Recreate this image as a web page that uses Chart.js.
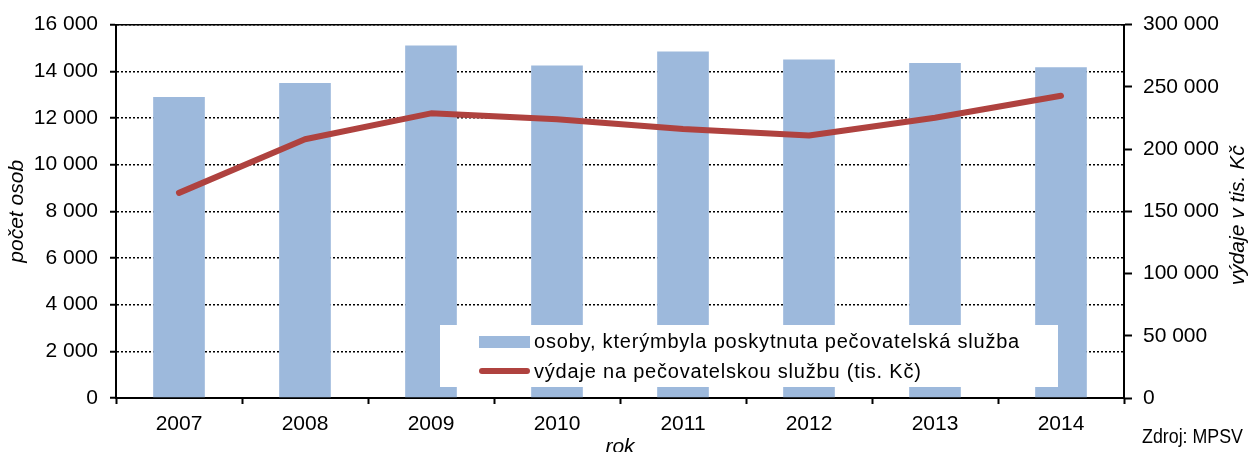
<!DOCTYPE html>
<html lang="cs">
<head>
<meta charset="utf-8">
<title>Pečovatelská služba 2007–2014</title>
<script src="https://cdn.jsdelivr.net/npm/chart.js@4/dist/chart.umd.min.js"></script>
<style>
  html, body { margin: 0; padding: 0; background: #fff; }
  #wrap { position: relative; width: 1251px; height: 452px; }
</style>
</head>
<body>
<div id="wrap"><canvas id="chart"></canvas></div>
<script>
// data
const years = ['2007', '2008', '2009', '2010', '2011', '2012', '2013', '2014'];
const persons = [12900, 13500, 15100, 14250, 14850, 14500, 14350, 14170];
const expenses = [164800, 207900, 228700, 223900, 216200, 210900, 225200, 242800];

const personsLabel = 'osoby, kterýmbyla poskytnuta pečovatelská služba';
const expensesLabel = 'výdaje na pečovatelskou službu (tis. Kč)';

const BAR_COLOR = '#9DB9DC';
const LINE_COLOR = '#AF423F';
const FONT = "'Liberation Sans', Arial, sans-serif";

Chart.defaults.font.family = FONT;
Chart.defaults.color = '#000';

// thousands with a space, Czech style
const fmt = v => String(v).replace(/\B(?=(\d{3})+(?!\d))/g, ' ');

// legend box inside the plot + axis titles + source note
const decorPlugin = {
  id: 'decor',
  afterDatasetsDraw(chart) {
    const ctx = chart.ctx;
    const ds = chart.data.datasets;
    ctx.save();
    ctx.fillStyle = '#fff';
    ctx.fillRect(440, 325, 618, 62);

    // row 1: bar swatch
    ctx.fillStyle = ds[0].backgroundColor;
    ctx.fillRect(479, 336, 51, 12);
    // row 2: line swatch
    ctx.strokeStyle = ds[1].borderColor;
    ctx.lineWidth = 6;
    ctx.lineCap = 'round';
    ctx.beginPath();
    ctx.moveTo(482, 371);
    ctx.lineTo(527, 371);
    ctx.stroke();

    ctx.fillStyle = '#000';
    ctx.font = '20px ' + FONT;
    ctx.letterSpacing = '0.8px';
    ctx.textBaseline = 'middle';
    ctx.textAlign = 'left';
    ctx.fillText(ds[0].label, 534, 342);
    ctx.fillText(ds[1].label, 534, 372);
    ctx.restore();
  },
  afterDraw(chart) {
    const ctx = chart.ctx;
    const area = chart.chartArea;
    const midY = (area.top + area.bottom) / 2;
    ctx.save();
    ctx.fillStyle = '#000';
    ctx.textAlign = 'center';
    ctx.textBaseline = 'alphabetic';
    ctx.font = 'italic 21px ' + FONT;

    ctx.save();
    ctx.translate(23, midY);
    ctx.rotate(-Math.PI / 2);
    ctx.fillText('počet osob', 0, 0);
    ctx.restore();

    ctx.save();
    ctx.translate(1244, midY + 4);
    ctx.rotate(-Math.PI / 2);
    ctx.fillText('výdaje v tis. Kč', 0, 0);
    ctx.restore();

    ctx.fillText('rok', (area.left + area.right) / 2, 453);

    ctx.font = '20px ' + FONT;
    ctx.textAlign = 'left';
    const src = 'Zdroj: MPSV';
    const w = ctx.measureText(src).width;
    ctx.translate(1142, 443);
    ctx.scale(101 / w, 1);
    ctx.fillText(src, 0, 0);
    ctx.restore();
  }
};

new Chart(document.getElementById('chart'), {
  type: 'bar',
  data: {
    labels: years,
    datasets: [
      {
        type: 'bar',
        label: personsLabel,
        data: persons,
        yAxisID: 'y',
        backgroundColor: BAR_COLOR,
        borderWidth: 0,
        barPercentage: 0.41,
        categoryPercentage: 1,
        order: 2
      },
      {
        type: 'line',
        label: expensesLabel,
        data: expenses,
        yAxisID: 'y1',
        borderColor: LINE_COLOR,
        backgroundColor: LINE_COLOR,
        borderWidth: 6,
        borderCapStyle: 'round',
        borderJoinStyle: 'round',
        pointRadius: 0,
        tension: 0,
        order: 1
      }
    ]
  },
  options: {
    responsive: true,
    maintainAspectRatio: false,
    animation: false,
    devicePixelRatio: 1,
    layout: { padding: { top: 22, left: 0, right: 0, bottom: 0 } },
    plugins: {
      legend: { display: false },
      tooltip: { enabled: false }
    },
    scales: {
      x: {
        position: 'bottom',
        grid: {
          drawOnChartArea: false,
          drawTicks: true,
          tickLength: 6,
          tickWidth: 2,
          tickColor: '#000'
        },
        border: { color: '#000', width: 2 },
        ticks: { font: { size: 21 }, padding: 8, color: '#000' },
        afterFit(s) { s.height = 54; }
      },
      x2: {
        position: 'top',
        grid: { display: false },
        border: { display: true, color: '#000', width: 1.5 },
        ticks: { display: false },
        afterFit(s) { s.height = 0; }
      },
      y: {
        position: 'left',
        min: 0,
        max: 16000,
        ticks: {
          stepSize: 2000,
          font: { size: 21 },
          padding: 12,
          color: '#000',
          callback: v => fmt(v)
        },
        grid: {
          color: '#000',
          lineWidth: 1.5,
          tickLength: 6,
          tickWidth: 2,
          tickColor: '#000',
          tickBorderDash: []
        },
        border: { color: '#000', width: 2, dash: [2, 2] },
        afterFit(s) { s.width = 116; }
      },
      y1: {
        position: 'right',
        min: 0,
        max: 300000,
        ticks: {
          stepSize: 50000,
          font: { size: 21 },
          padding: 11,
          color: '#000',
          callback: v => fmt(v)
        },
        grid: {
          drawOnChartArea: false,
          tickLength: 8,
          tickWidth: 2,
          tickColor: '#000'
        },
        border: { color: '#000', width: 2 },
        afterFit(s) { s.width = 127; }
      }
    }
  },
  plugins: [decorPlugin]
});
</script>
</body>
</html>
